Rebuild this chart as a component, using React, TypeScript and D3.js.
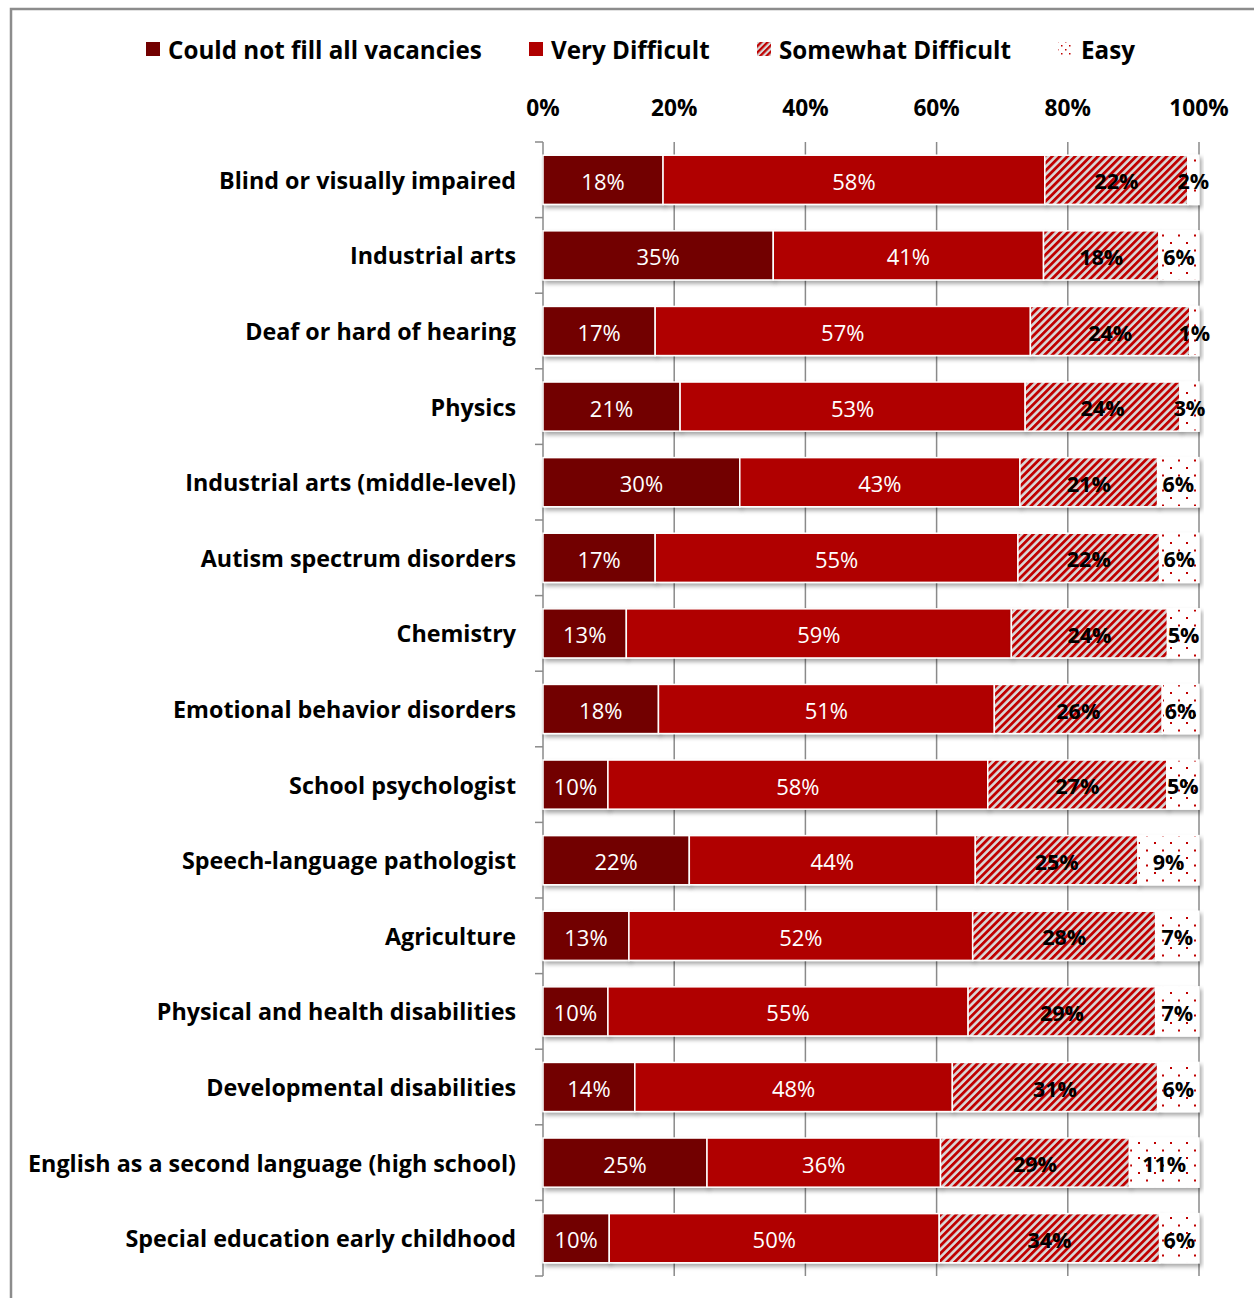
import React from "react";
import * as d3 from "d3";

const categories = [
  "Blind or visually impaired",
  "Industrial arts",
  "Deaf or hard of hearing",
  "Physics",
  "Industrial arts (middle-level)",
  "Autism spectrum disorders",
  "Chemistry",
  "Emotional behavior disorders",
  "School psychologist",
  "Speech-language pathologist",
  "Agriculture",
  "Physical and health disabilities",
  "Developmental disabilities",
  "English as a second language (high school)",
  "Special education early childhood",
];

const couldNotFill = [18.3, 35.1, 17.1, 20.9, 30.0, 17.1, 12.7, 17.6, 9.9, 22.3, 13.1, 9.9, 14.0, 25.0, 10.1];
const veryDifficult = [58.2, 41.2, 57.2, 52.6, 42.7, 55.3, 58.7, 51.2, 57.9, 43.6, 52.4, 54.9, 48.4, 35.6, 50.3];
const somewhatDifficult = [21.8, 17.6, 24.3, 23.6, 21.0, 21.6, 23.8, 25.6, 27.3, 24.8, 27.9, 28.6, 31.3, 28.8, 33.6];
const easy = [1.7, 6.1, 1.4, 2.9, 6.3, 6.0, 4.9, 5.6, 4.9, 9.3, 6.6, 6.6, 6.3, 10.6, 6.0];

const seriesNames = ["Could not fill all vacancies", "Very Difficult", "Somewhat Difficult", "Easy"];
const xTicks = [0, 20, 40, 60, 80, 100];

const FONT = "'Open Sans', Lato, sans-serif";

export default function App() {
  const W = 1254;
  const H = 1298;
  const x0 = 543;
  const x1 = 1199;
  const top = 142;
  const bottom = 1276;

  const x = d3.scaleLinear().domain([0, 100]).range([x0, x1]);
  const y = d3.scaleBand<string>().domain(categories).range([top, bottom]).paddingInner(0.35).paddingOuter(0.175);

  const rows = categories.map((c, i) => ({
    cat: c,
    s0: couldNotFill[i],
    s1: veryDifficult[i],
    s2: somewhatDifficult[i],
    s3: easy[i],
  }));
  const keys = ["s0", "s1", "s2", "s3"];
  const stacked = d3.stack<any>().keys(keys)(rows);

  const fills = ["#720000", "#b00000", "url(#hatch)", "url(#dots)"];
  const labelColors = ["#ffffff", "#ffffff", "#000000", "#000000"];
  const labelWeights = [400, 400, 700, 700];
  const labelSizes = [22, 22, 21.5, 21.5];

  const bandStep = (bottom - top) / categories.length;
  const boundaries = d3.range(categories.length + 1).map((i) => top + i * bandStep);

  const legendItems = [
    { name: seriesNames[0], sx: 146, tx: 168, fill: "#720000" },
    { name: seriesNames[1], sx: 529, tx: 551, fill: "#b00000" },
    { name: seriesNames[2], sx: 757, tx: 779, fill: "url(#hatchL)" },
    { name: seriesNames[3], sx: 1058, tx: 1081, fill: "url(#dotsL)" },
  ];

  return (
    <svg
      width={W}
      height={H}
      style={{ position: "absolute", left: 0, top: 0, background: "#fff" }}
      fontFamily={FONT}
    >
      <defs>
        <pattern id="hatch" patternUnits="userSpaceOnUse" width="5.4" height="5.4" patternTransform="rotate(45)">
          <rect width="5.4" height="5.4" fill="#d9d9d9" />
          <rect x="0" y="0" width="2.8" height="5.4" fill="#c00000" />
        </pattern>
        <pattern id="hatchL" patternUnits="userSpaceOnUse" width="4.5" height="4.5" patternTransform="rotate(45)">
          <rect width="4.5" height="4.5" fill="#d9d9d9" />
          <rect x="0" y="0" width="2.3" height="4.5" fill="#c00000" />
        </pattern>
        <pattern id="dots" patternUnits="userSpaceOnUse" width="16" height="15">
          <rect width="16" height="15" fill="#ffffff" />
          <rect x="2" y="2" width="2" height="2" fill="#c00000" />
          <rect x="10" y="9.5" width="2" height="2" fill="#c00000" />
        </pattern>
        <pattern id="dotsL" patternUnits="userSpaceOnUse" width="8" height="8">
          <rect width="8" height="8" fill="#ffffff" />
          <rect x="1" y="1" width="1.5" height="1.5" fill="#c00000" />
          <rect x="5" y="5" width="1.5" height="1.5" fill="#c00000" />
        </pattern>
        <filter id="shadow" x="-5%" y="-20%" width="110%" height="160%">
          <feDropShadow dx="2" dy="3" stdDeviation="2.2" floodColor="#000" floodOpacity="0.35" />
        </filter>
      </defs>

      {/* frame */}
      <rect x={11} y={9} width={W + 20} height={H + 20} fill="none" stroke="#8c8c8c" strokeWidth={2.5} />

      {/* legend */}
      {legendItems.map((l) => (
        <g key={l.name}>
          <rect x={l.sx} y={42} width={14} height={14} fill={l.fill} />
          <text x={l.tx} y={49} dominantBaseline="central" fontSize={24.2} fontWeight={700} fill="#000">
            {l.name}
          </text>
        </g>
      ))}

      {/* gridlines */}
      {xTicks.map((t) => (
        <line key={t} x1={x(t)} x2={x(t)} y1={top} y2={bottom} stroke="#8a8a8a" strokeWidth={1.5} />
      ))}
      {/* left axis ticks */}
      {boundaries.map((b, i) => (
        <line key={i} x1={x0 - 8} x2={x0} y1={b} y2={b} stroke="#8a8a8a" strokeWidth={1.5} />
      ))}

      {/* top tick labels */}
      {xTicks.map((t) => (
        <text key={t} x={x(t)} y={107} textAnchor="middle" dominantBaseline="central" fontSize={22.7} fontWeight={700} fill="#000">
          {t + "%"}
        </text>
      ))}

      {/* bars */}
      {stacked.map((layer, si) => (
        <g key={layer.key} filter="url(#shadow)">
          {layer.map((d: any, i: number) => (
            <rect
              key={i}
              x={x(d[0])}
              y={y(categories[i])!}
              width={x(d[1]) - x(d[0])}
              height={y.bandwidth()}
              fill={fills[si]}
              stroke="#ffffff"
              strokeWidth={1.5}
            />
          ))}
        </g>
      ))}

      {/* data labels */}
      {stacked.map((layer, si) => (
        <g key={"l" + layer.key}>
          {layer.map((d: any, i: number) => (
            <text
              key={i}
              x={(x(d[0]) + x(d[1])) / 2}
              y={y(categories[i])! + y.bandwidth() / 2 + 1}
              textAnchor="middle"
              dominantBaseline="central"
              fontSize={labelSizes[si]}
              fontWeight={labelWeights[si]}
              fill={labelColors[si]}
            >
              {Math.round(d[1] - d[0]) + "%"}
            </text>
          ))}
        </g>
      ))}

      {/* category labels */}
      {categories.map((c) => (
        <text
          key={c}
          x={516}
          y={y(c)! + y.bandwidth() / 2}
          textAnchor="end"
          dominantBaseline="central"
          fontSize={23.3}
          fontWeight={700}
          fill="#000"
        >
          {c}
        </text>
      ))}
    </svg>
  );
}
